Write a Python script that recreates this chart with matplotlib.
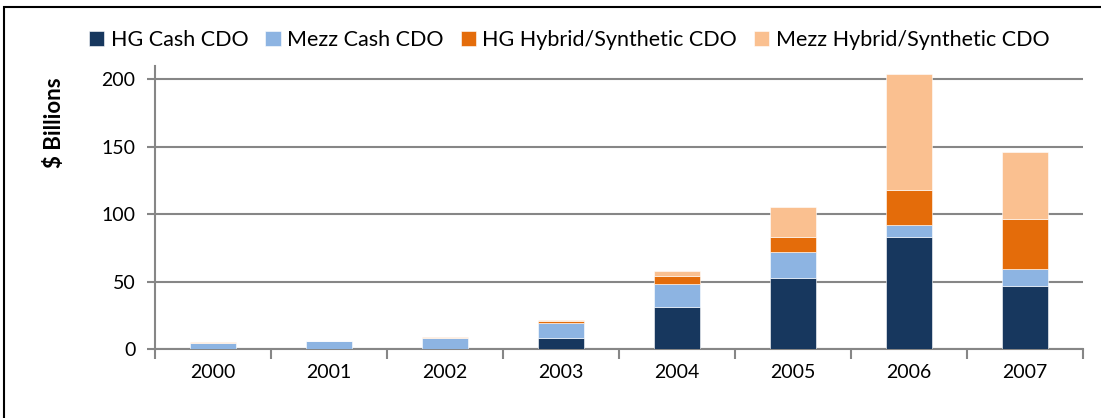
import matplotlib.pyplot as plt
import matplotlib.patches as patches
import numpy as np

years = ['2000', '2001', '2002', '2003', '2004', '2005', '2006', '2007']
hg_cash = [0, 0, 0, 8, 31, 53, 83, 47]
mezz_cash = [4.2, 6.2, 8.4, 11, 17, 19, 9, 12]
hg_hybrid = [0, 0, 0, 2, 6.2, 11, 26, 37]
mezz_hybrid = [0.8, 0, 0.6, 0.5, 3.5, 22, 86, 50]

series = [
    ('HG Cash CDO', hg_cash, '#17375E'),
    ('Mezz Cash CDO', mezz_cash, '#8DB4E2'),
    ('HG Hybrid/Synthetic CDO', hg_hybrid, '#E46C0A'),
    ('Mezz Hybrid/Synthetic CDO', mezz_hybrid, '#FAC090'),
]

plt.rcParams['font.family'] = ['Lato', 'DejaVu Sans']

fig = plt.figure(figsize=(11.01, 4.18), dpi=100)
ax = fig.add_axes([0.1408, 0.165, 0.8429, 0.678])

x = np.arange(len(years))
bottom = np.zeros(len(years))
for name, vals, col in series:
    vals = np.array(vals, dtype=float)
    ax.bar(x, vals, width=0.4, bottom=bottom, color=col, label=name,
           edgecolor='white', linewidth=0.4, zorder=3)
    bottom += vals

ax.set_xlim(-0.5, len(years) - 0.5)
ax.set_ylim(0, 210)
ax.set_yticks(np.arange(0, 201, 50))
ax.set_xticks(x)
ax.set_xticklabels(years)
ax.set_xticks(np.arange(-0.5, len(years)), minor=True)
ax.tick_params(axis='x', which='major', length=0, pad=11, labelsize=14)
ax.tick_params(axis='x', which='minor', length=7, width=1.5, color='#868686')
ax.tick_params(axis='y', length=6, width=1.5, color='#868686', labelsize=14, pad=8)

ax.grid(axis='y', color='#868686', linewidth=1.5, zorder=0)
for side in ['top', 'right']:
    ax.spines[side].set_visible(False)
for side in ['left', 'bottom']:
    ax.spines[side].set_color('#868686')
    ax.spines[side].set_linewidth(1.5)

ax.set_ylabel('$ Billions', fontsize=16, fontweight='bold')
ax.yaxis.set_label_coords(-0.097, 0.8)

fig.legend(loc='center', bbox_to_anchor=(0.517, 0.904), ncol=4, frameon=False,
           fontsize=15.5, handlelength=0.7, handleheight=0.7, handletextpad=0.3,
           columnspacing=0.8)

fig.add_artist(patches.Rectangle((0.0036, -0.05), 1.1, 1.033, fill=False,
                                 edgecolor='black', linewidth=1.5,
                                 transform=fig.transFigure))

fig.savefig('out.png', dpi=100)
